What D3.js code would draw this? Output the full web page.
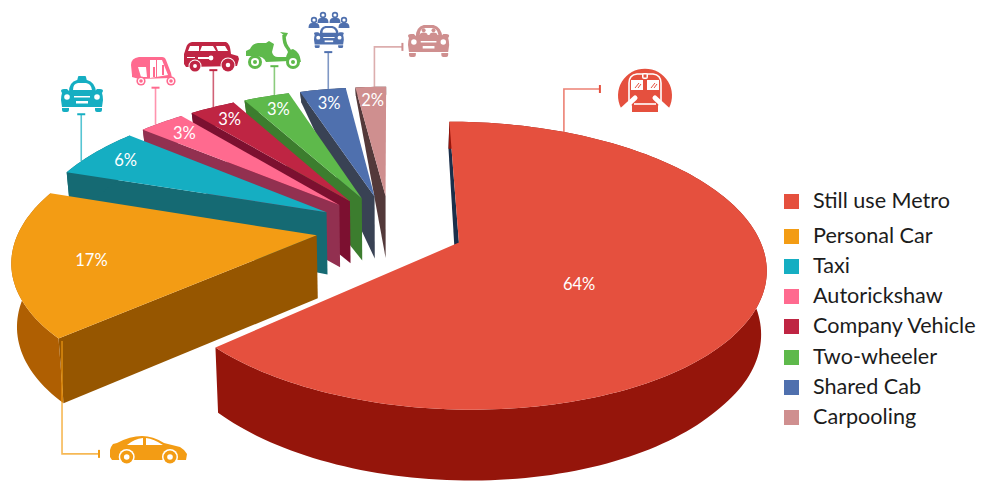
<!DOCTYPE html>
<html><head><meta charset="utf-8">
<script src="https://cdn.jsdelivr.net/npm/d3@7/dist/d3.min.js"></script>
<style>html,body{margin:0;padding:0;background:#fff;overflow:hidden}svg{display:block}text{font-family:Lato,"Noto Sans",sans-serif}</style>
</head><body><svg id="c" width="981" height="483"></svg>
<script>
// ---- data ----
const categories = ["Still use Metro","Personal Car","Taxi","Autorickshaw","Company Vehicle","Two-wheeler","Shared Cab","Carpooling"];
const shares = [64,17,6,3,3,3,3,2];
const labels = ["64%","17%","6%","3%","3%","3%","3%","2%"];
// ---- styles ----
const topColors  = ["#E5503E","#F39C14","#15AEC2","#FF6A8F","#BF2543","#5EB94B","#4F70AE","#CF8F8F"];
const faceColors = ["#1B2F4B","#965600","#156A73","#923050","#7C1030","#3C7D2E","#394254","#53393A"];
const rimColors  = ["#95150B","#AF5F02","#156A73","#923050","#7C1030","#3C7D2E","#394254","#53393A"];
const iconNames  = ["train","sideCar","taxi","rickshaw","van","scooter","shared","carpool"];
// leader layout: fraction across the slice, run along the vertical, run along the horizontal
const leaderFrac = [.112,-.018,.27,.34,.525,.68,.62,.62];
const leaderRise = [43,-113,47,37,37,29,37,40];
const leaderRun  = [36,37,0,0,0,0,0,28];

const svg = d3.select("#c");
// ---- pie plane to screen, with perspective ----
const explode = .25, persp = .158;
const sx = d3.scaleLinear().domain([-1,1]).range([390-297,390+297]);
const sy = d3.scaleLinear().domain([-1,1]).range([228.5-135.8,228.5+135.8]);
const depth = d3.scaleLinear().domain([-1.25,-.25,.75,1.11]).range([8,62,65,71]);
const labelR = d3.scaleLinear().domain([6,17,64]).range([.86,.745,.466]).clamp(true);
const labelShift = d3.scaleLinear().domain([6,17,64]).range([0,-.03,.234]).clamp(true);
const project = (X,Y)=>{const w=1-persp*Y;return [sx(X/w),sy(Y/w)];};
const arcs = d3.pie().sort(null).value(d=>d)(shares);
const line = d3.line();
function pt(a,r,i){
  const m=(arcs[i].startAngle+arcs[i].endAngle)/2;
  const X=explode*Math.sin(m)+r*Math.sin(a), Y=-explode*Math.cos(m)-r*Math.cos(a);
  const p=project(X,Y); return {p,Y};
}
const bottom=o=>[sx(0)+(o.p[0]-sx(0))*.985,o.p[1]+depth(o.Y)];

function drawSlice(i){
  const a=arcs[i], g=svg.append("g");
  const n=Math.max(6,Math.ceil((a.endAngle-a.startAngle)*40));
  const ang=d3.range(n+1).map(k=>a.startAngle+(a.endAngle-a.startAngle)*k/n);
  const rim=ang.map(t=>pt(t,1,i));
  const apex=pt(a.startAngle,0,i);
  // cut face at the start edge
  g.append("path").attr("fill",faceColors[i])
    .attr("d",line([rim[0].p,apex.p,bottom(apex),bottom(rim[0])])+"Z");
  // outer wall
  g.append("path").attr("fill",rimColors[i])
    .attr("d",line(rim.map(o=>o.p).concat(rim.map(bottom).reverse()))+"Z");
  // top surface
  g.append("path").attr("fill",topColors[i])
    .attr("d",line([apex.p].concat(rim.map(o=>o.p)))+"Z");
}
function drawLeader(i){
  const a=arcs[i], t=a.startAngle+(a.endAngle-a.startAngle)*leaderFrac[i];
  const [x,y]=pt(t,1,i).p, c=topColors[i];
  const y2=y-leaderRise[i], x2=x+leaderRun[i];
  svg.append("path").attr("fill","none").attr("stroke",c).attr("stroke-width",1.6).attr("opacity",.72)
    .attr("d",line([[x,y],[x,y2],[x2,y2]]));
  const cap=leaderRun[i]?[[x2,y2-4],[x2,y2+4]]:[[x-4,y2],[x+4,y2]];
  svg.append("path").attr("fill","none").attr("stroke",c).attr("stroke-width",2).attr("d",line(cap));
}
d3.range(7,0,-1).forEach(drawSlice);
drawSlice(0);
d3.range(8).forEach(drawLeader);

// data labels
shares.forEach((v,i)=>{
  const m=(arcs[i].startAngle+arcs[i].endAngle)/2+labelShift(v);
  const p=pt(m,labelR(v),i).p;
  svg.append("text").attr("x",p[0]).attr("y",p[1]).attr("dy",".36em").attr("text-anchor","middle")
    .attr("fill","#fff").attr("font-size",16.5).text(labels[i]);
});

// legend
categories.forEach((c,i)=>{
  const y=194+30.1*i+(i>0?5:0);
  svg.append("rect").attr("x",784).attr("y",Math.round(y)).attr("width",15).attr("height",15).attr("fill",topColors[i]);
  svg.append("text").attr("x",813).attr("y",Math.round(y)+6).attr("dy",".36em").attr("fill","#1c1c1c").attr("font-size",21.6).text(c);
});

// ---- pictograms ----
const W="#fff";
function place(x,y){return svg.append("g").attr("transform",`translate(${x},${y})`);}
function add(g,d,f){return g.append("path").attr("d",d).attr("fill",f);}
function disc(g,x,y,r,f){return g.append("circle").attr("cx",x).attr("cy",y).attr("r",r).attr("fill",f);}
function frontCar(g,c){
  add(g,"M8,16Q8,6 16,4L26,4Q34,6 35,16Z",c);
  add(g,"M12,14Q12,7.5 17,7L25,7Q30,7.5 31,14Z",W);
  add(g,"M0,15Q0,13 3,13L6,13L8,15L34,15L36,13L39,13Q42,13 42,15L41,17Q42,20 42,24L41,31L1,31L0,24Q0,20 1,17Z",c);
  add(g,"M1,32L8,32L8,34Q8,36 6,36L3,36Q1,36 1,34ZM34,32L41,32L41,34Q41,36 39,36L36,36Q34,36 34,34Z",c);
  disc(g,6,21,2.8,W);disc(g,36,21,2.8,W);
  g.append("rect").attr("x",13).attr("y",20).attr("width",16).attr("height",1.5).attr("fill",W);
  g.append("rect").attr("x",15).attr("y",25).attr("width",12).attr("height",2.5).attr("fill",W);
}
const icons={
  taxi(c){const g=place(61,76);add(g,"M16,5L17,1Q17,0 18,0L24,0Q25,0 25,1L26,5Z",c);frontCar(g,c);},
  carpool(c){const g=place(408,21).attr("transform","translate(408,21) scale(.98,1)");frontCar(g,c);
    [16,26].forEach(x=>{disc(g,x,9.2,2,c);add(g,`M${x-4},14Q${x-4},11.5 ${x},11.5Q${x+4},11.5 ${x+4},14Z`,c);});},
  shared(c){const g=place(314,23).attr("transform","translate(314,23.2) scale(.71,.69)");frontCar(g,c);
    const p=place(0,0);
    [[314,22],[323,17],[335,17],[344,22]].forEach(([x,y])=>{
      disc(p,x,y-2,3.2,c);add(p,`M${x-5.5},${y+6}Q${x-5.5},${y+1} ${x-2},${y+1}L${x+2},${y+1}Q${x+5.5},${y+1} ${x+5.5},${y+6}Z`,c);
      disc(p,x,y-2,1.6,W);});
  },
  rickshaw(c){const g=place(131,57);
    add(g,"M1,18L0,8Q0,1 8,0L31,0Q34,0 35,3L40,16L41,21L8,22L1,20Z",c);
    add(g,"M19,3L31,3L37,18L19,21ZM7,10L15,10L16,20L10,20Z",W);
    add(g,"M25,3L26,3L26,20L25,20ZM31,8L33,8L33,18L31,18ZM22,10L24,10L24,20L22,20Z",c);
    [[10,24],[40,24]].forEach(([x,y])=>{disc(g,x,y,4.6,c);disc(g,x,y,3,W);disc(g,x,y,1.8,c);});},
  van(c){const g=place(184,42);
    add(g,"M2,6Q3,1 8,0L42,0Q46,1 47,12L54,14L55,17L53,24L2,25L0,22L0,12Z",c);
    add(g,"M6,4L15,4L15,9L4,9ZM18,4L29,4L32,9L16,9ZM32,4L41,4L44,9L34,9Z",W);
    add(g,"M14,15L26,15L26,17L14,17ZM3,15L11,15L11,16L3,16Z",W);disc(g,27,16,2.4,W);
    [[11,24,5.5],[44,23,6.5]].forEach(([x,y,r])=>{disc(g,x,y,r+1,W);disc(g,x,y,r,c);disc(g,x,y,r*.35,W);});},
  scooter(c){const g=place(246,32);
    add(g,"M0,19L4,17Q6,12 12,11L20,11L23,9L28,12L26,20Q27,25 32,25L43,25L43,29L20,30Q18,24 9,24L0,24Z",c);
    g.append("path").attr("d","M38,3Q38,11 41,15Q45,20 45,26").attr("fill","none").attr("stroke",c).attr("stroke-width",3.5);
    add(g,"M34,0L42,1L40,5Z",c);
    add(g,"M40,28Q40,18 47,17Q54,20 55,30Z",c);
    [[9,30],[47,30]].forEach(([x,y])=>{disc(g,x,y,7,c);disc(g,x,y,4,W);disc(g,x,y,2,c);});},
  sideCar(c){const g=place(110,435);
    add(g,"M1,12L3,9L7,8Q20,1 32,1Q43,1 54,8L70,12L74,15L77,19L76,25L2,25L0,22L0,15Z",c);
    add(g,"M17,10Q24,4 33,3L33,10ZM36,3Q44,4 53,10L36,10Z",W);
    [[16.7,22],[60,22]].forEach(([x,y])=>{disc(g,x,y,8,W);disc(g,x,y,6.5,c);disc(g,x,y,2.8,W);});},
  train(c){const g=place(645,91);
    add(g,"M-24,17A27,27 0 1 1 24,17L14,12L13,15L13,21L-13,21L-13,15L-14,12Z",c);
    g.append("path").attr("d","M-16,10L-16,-8Q-16,-16 -8,-17L8,-17Q16,-16 16,-8L16,10").attr("fill","none").attr("stroke",W).attr("stroke-width",1.6);
    add(g,"M-14,-11L-2,-11L-2,-1L-14,-1ZM2,-11L14,-11L14,-1L2,-1Z",W);
    g.append("rect").attr("x",-3).attr("y",-18).attr("width",6).attr("height",6).attr("rx",2).attr("fill",W);
    g.append("rect").attr("x",-1.5).attr("y",-16.5).attr("width",3).attr("height",3).attr("fill",c);
    g.append("path").attr("d","M-10,-3L-6,-8M-7,-3L-4,-7M6,-3L10,-8M9,-3L12,-7").attr("stroke",c).attr("stroke-width",1);
    g.append("path").attr("d","M-23,19L-10,7M23,19L10,7").attr("stroke",W).attr("stroke-width",5).attr("stroke-linecap","round");
    g.append("path").attr("d","M-11,13L11,13").attr("stroke",W).attr("stroke-width",1.6);}
};
iconNames.forEach((n,i)=>icons[n](topColors[i]));
</script></body></html>
